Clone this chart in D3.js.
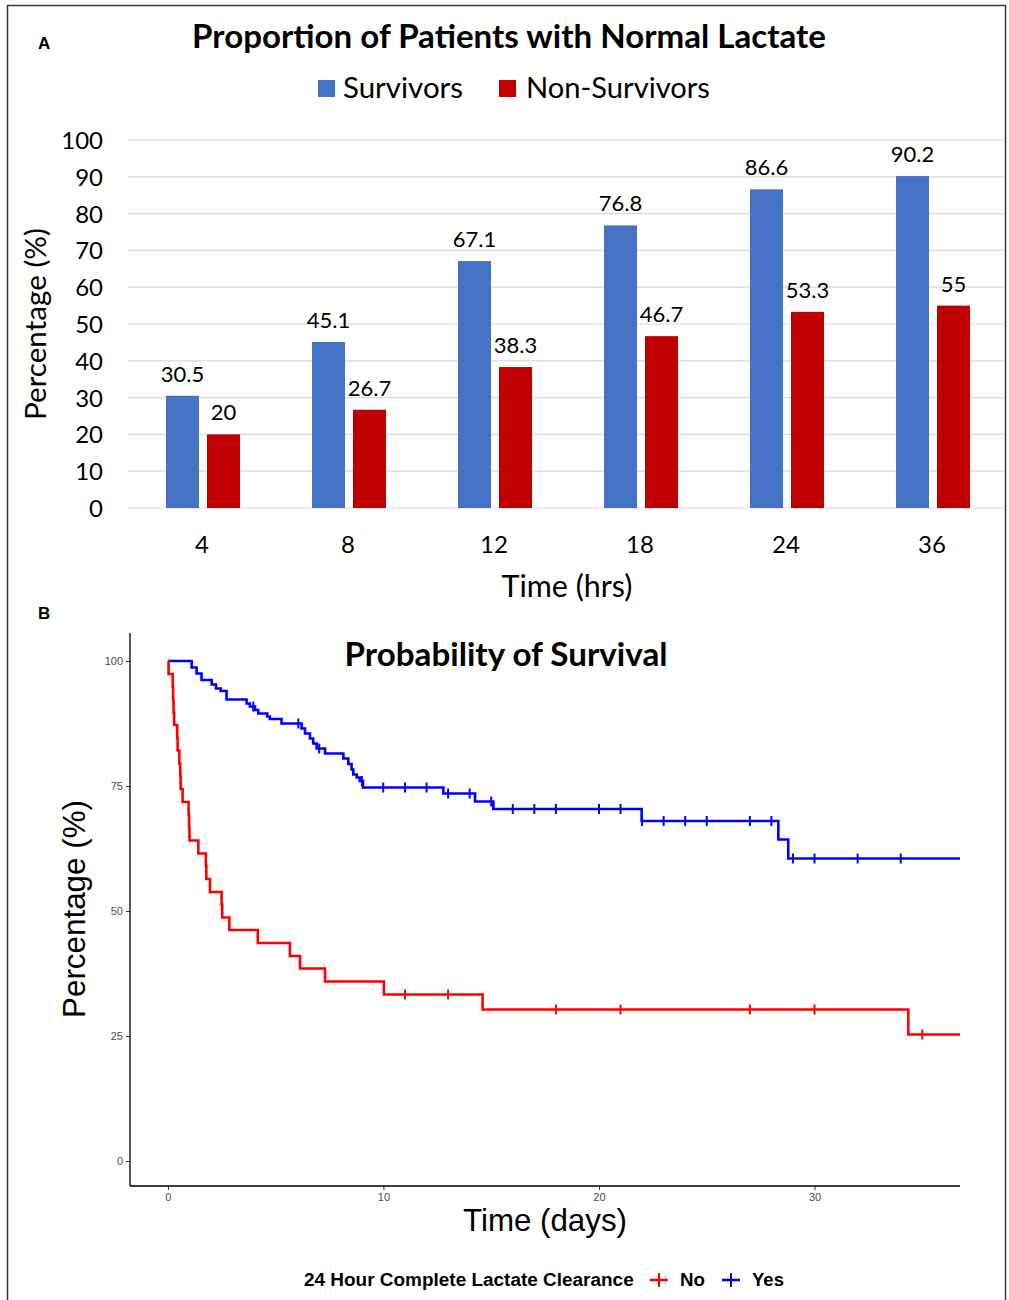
<!DOCTYPE html>
<html><head><meta charset="utf-8">
<script src="https://cdn.jsdelivr.net/npm/d3@7"></script>
<style>body{margin:0;background:#fff}</style>
</head><body>
<svg id="chart" width="1009" height="1300"></svg>
<script>
// ---------- Panel A data ----------
const categories = ["4", "8", "12", "18", "24", "36"];
const seriesNames = ["Survivors", "Non-Survivors"];
const survivors = [30.5, 45.1, 67.1, 76.8, 86.6, 90.2];
const nonSurvivors = [20, 26.7, 38.3, 46.7, 53.3, 55];
const barTicks = [0, 10, 20, 30, 40, 50, 60, 70, 80, 90, 100];

// ---------- Panel B data (Kaplan-Meier) ----------
const yesTimes = [0, 1.10, 1.33, 1.56, 2.03, 2.23, 2.45, 2.72, 3.65, 3.80, 4.04, 4.19, 4.61, 4.73, 5.27, 6.20, 6.36, 6.59, 6.74, 6.90, 7.29, 8.14, 8.37, 8.52, 8.60, 8.76, 8.90, 9.05, 12.78, 14.25, 15.10, 21.98, 28.32, 28.78];
const yesSurv  = [100, 98.7, 97.5, 96.2, 95.3, 94.5, 94.0, 92.3, 91.5, 90.9, 90.2, 89.5, 88.9, 88.4, 87.5, 86.5, 85.5, 84.5, 83.5, 82.5, 81.5, 80.5, 79.4, 78.3, 77.3, 76.7, 76.0, 74.7, 73.5, 71.9, 70.4, 68.0, 64.3, 60.5];
const yesCensor = [3.96, 6.05, 7.02, 9.0, 9.99, 11.0, 12.0, 13.0, 14.0, 15.0, 16.0, 17.0, 18.0, 20.0, 21.0, 22.0, 23.0, 24.0, 25.0, 27.0, 28.0, 29.0, 30.0, 32.0, 34.0];
const noTimes = [0, 0.03, 0.22, 0.24, 0.26, 0.29, 0.43, 0.45, 0.53, 0.57, 0.59, 0.68, 0.96, 0.98, 1.00, 1.41, 1.76, 1.78, 1.95, 2.49, 2.52, 2.85, 4.17, 5.66, 6.13, 7.29, 10.02, 14.6, 34.35];
const noSurv  = [100, 97.4, 94.9, 92.3, 89.7, 87.2, 84.6, 82.1, 79.5, 76.9, 74.4, 71.8, 69.2, 66.7, 64.1, 61.5, 59.0, 56.4, 53.8, 51.3, 48.7, 46.2, 43.6, 41.0, 38.5, 35.9, 33.3, 30.3, 25.3];
const noCensor = [11.0, 13.0, 18.0, 21.0, 27.0, 30.0, 35.0];
const kmEnd = 36.75;
const kmYTicks = [0, 25, 50, 75, 100];
const kmXTicks = [0, 10, 20, 30];
const kmGroups = ["No", "Yes"];

const svg = d3.select("#chart");
const FA = "Lato, 'Open Sans', sans-serif";
const FB = "'Liberation Sans', Arial, Helvetica, sans-serif";

function fit(sel, w) {
  const n = sel.node();
  const s = parseFloat(sel.attr("font-size"));
  const len = n.getComputedTextLength();
  sel.attr("font-size", (s * w / len).toFixed(2));
  return sel;
}

// frame
svg.append("path").attr("d", "M7.5,1300 V5.5 H1005.5 V1300").attr("fill", "none").attr("stroke", "#3a3a3a").attr("stroke-width", 1.5);

// ================= Panel A =================
const x = d3.scaleBand().domain(categories).range([129, 1005]);
const xs = d3.scaleBand().domain(seriesNames).range([37, 111]).paddingInner(0.195);
const y = d3.scaleLinear().domain([0, 100]).range([508, 140]);
const colorA = d3.scaleOrdinal().domain(seriesNames).range(["#4472C4", "#C00000"]);

svg.append("text").text("A").attr("x", 38).attr("y", 49).attr("font-family", FB).attr("font-weight", "bold").attr("font-size", 17);

fit(svg.append("text").text("Proportion of Patients with Normal Lactate")
  .attr("x", 509).attr("y", 48).attr("text-anchor", "middle")
  .attr("font-family", FA).attr("font-weight", "bold").attr("font-size", 29), 634);

// legend A
const legA = [{name: "Survivors", rx: 318, tx: 343, w: 120}, {name: "Non-Survivors", rx: 499, tx: 526, w: 184}];
legA.forEach(d => {
  svg.append("rect").attr("x", d.rx).attr("y", 80).attr("width", 17).attr("height", 17).attr("fill", colorA(d.name));
  fit(svg.append("text").text(d.name).attr("x", d.tx).attr("y", 98).attr("font-family", FA).attr("font-size", 26), d.w);
});

// gridlines
const gA = svg.append("g");
gA.selectAll("line.grid").data(barTicks).join("line").attr("class", "grid")
  .attr("x1", 128).attr("x2", 1005).attr("y1", d => y(d)).attr("y2", d => y(d))
  .attr("stroke", "#d9d9d9").attr("stroke-width", 1.2);

// y axis labels
const yAxisA = d3.axisLeft(y).tickValues(barTicks).tickSize(0).tickPadding(0);
const yAx = svg.append("g").attr("transform", "translate(103,0)").call(yAxisA);
yAx.select(".domain").remove();
yAx.selectAll("text").attr("font-family", FA).attr("font-size", 24).attr("fill", "#000").attr("dy", "0.35em");

// x axis labels
const xAxisA = d3.axisBottom(x).tickSize(0).tickPadding(0);
const xAx = svg.append("g").attr("transform", "translate(0,536)").call(xAxisA);
xAx.select(".domain").remove();
xAx.selectAll("text").attr("font-family", FA).attr("font-size", 24).attr("fill", "#000").attr("dy", "0.71em");

// bars
const rows = categories.map((c, i) => ({cat: c, vals: [{s: "Survivors", v: survivors[i]}, {s: "Non-Survivors", v: nonSurvivors[i]}]}));
const grp = svg.append("g").selectAll("g").data(rows).join("g").attr("transform", d => `translate(${x(d.cat)},0)`);
grp.selectAll("rect").data(d => d.vals).join("rect")
  .attr("x", d => xs(d.s)).attr("width", xs.bandwidth())
  .attr("y", d => y(d.v)).attr("height", d => y(0) - y(d.v))
  .attr("fill", d => colorA(d.s));
grp.selectAll("text").data(d => d.vals).join("text")
  .attr("x", d => xs(d.s) + xs.bandwidth() / 2).attr("y", d => y(d.v) - 14)
  .attr("text-anchor", "middle").attr("font-family", FA).attr("font-size", 22)
  .text(d => d.v);

// axis titles A
fit(svg.append("text").text("Percentage (%)").attr("transform", "translate(46,324) rotate(-90)")
  .attr("text-anchor", "middle").attr("font-family", FA).attr("font-size", 27), 192);
fit(svg.append("text").text("Time (hrs)").attr("x", 567).attr("y", 597).attr("text-anchor", "middle")
  .attr("font-family", FA).attr("font-size", 27), 131);

// ================= Panel B =================
const xK = d3.scaleLinear().domain([-1.76, kmEnd]).range([130, 960]);
const yK = d3.scaleLinear().domain([0, 100]).range([1161, 661]);
const colorB = d3.scaleOrdinal().domain(kmGroups).range(["#FF0000", "#0000FF"]);

svg.append("text").text("B").attr("x", 38).attr("y", 619).attr("font-family", FB).attr("font-weight", "bold").attr("font-size", 17);

fit(svg.append("text").text("Probability of Survival").attr("x", 506).attr("y", 666).attr("text-anchor", "middle")
  .attr("font-family", FA).attr("font-weight", "bold").attr("font-size", 29), 323);

// axes
const yAxB = svg.append("g").attr("transform", "translate(130,0)")
  .call(d3.axisLeft(yK).tickValues(kmYTicks).tickSize(4).tickPadding(3));
yAxB.select(".domain").remove();
yAxB.selectAll("line").attr("stroke", "#333");
yAxB.selectAll("text").attr("font-family", FB).attr("font-size", 11).attr("fill", "#4d4d4d");
const xAxB = svg.append("g").attr("transform", "translate(0,1186)")
  .call(d3.axisBottom(xK).tickValues(kmXTicks).tickSize(4).tickPadding(3));
xAxB.select(".domain").remove();
xAxB.selectAll("line").attr("stroke", "#333");
xAxB.selectAll("text").attr("font-family", FB).attr("font-size", 11).attr("fill", "#4d4d4d");
svg.append("line").attr("x1", 130).attr("x2", 130).attr("y1", 633).attr("y2", 1186).attr("stroke", "#000").attr("stroke-width", 1.3);
svg.append("line").attr("x1", 130).attr("x2", 960).attr("y1", 1186).attr("y2", 1186).attr("stroke", "#000").attr("stroke-width", 1.3);

// curves
const km = [
  {g: "Yes", times: yesTimes, surv: yesSurv, censor: yesCensor},
  {g: "No", times: noTimes, surv: noSurv, censor: noCensor}
];
const stepLine = d3.line().x(d => xK(d[0])).y(d => yK(d[1])).curve(d3.curveStepAfter);
km.forEach(k => {
  const pts = k.times.map((t, i) => [t, k.surv[i]]);
  pts.push([kmEnd, k.surv[k.surv.length - 1]]);
  svg.append("path").datum(pts).attr("d", stepLine).attr("fill", "none")
    .attr("stroke", colorB(k.g)).attr("stroke-width", 2.6).attr("stroke-linejoin", "miter");
  const cs = k.censor.map(t => [t, k.surv[d3.bisectRight(k.times, t) - 1]]);
  svg.append("g").selectAll("line").data(cs).join("line")
    .attr("x1", d => xK(d[0])).attr("x2", d => xK(d[0]))
    .attr("y1", d => yK(d[1]) - 5).attr("y2", d => yK(d[1]) + 5)
    .attr("stroke", colorB(k.g)).attr("stroke-width", 2);
});

// axis titles B
fit(svg.append("text").text("Percentage (%)").attr("transform", "translate(85,909) rotate(-90)")
  .attr("text-anchor", "middle").attr("font-family", FB).attr("font-size", 32), 218);
fit(svg.append("text").text("Time (days)").attr("x", 545).attr("y", 1231).attr("text-anchor", "middle")
  .attr("font-family", FB).attr("font-size", 32), 164);

// legend B
fit(svg.append("text").text("24 Hour Complete Lactate Clearance").attr("x", 304).attr("y", 1286)
  .attr("font-family", FB).attr("font-weight", "bold").attr("font-size", 17), 330);
const legB = [{g: "No", cx: 659, tx: 680, w: 25}, {g: "Yes", cx: 731, tx: 752, w: 32}];
legB.forEach(d => {
  svg.append("line").attr("x1", d.cx - 9).attr("x2", d.cx + 9).attr("y1", 1280).attr("y2", 1280).attr("stroke", colorB(d.g)).attr("stroke-width", 2.6);
  svg.append("line").attr("x1", d.cx).attr("x2", d.cx).attr("y1", 1273).attr("y2", 1287).attr("stroke", colorB(d.g)).attr("stroke-width", 2);
  fit(svg.append("text").text(d.g).attr("x", d.tx).attr("y", 1286).attr("font-family", FB).attr("font-weight", "bold").attr("font-size", 17), d.w);
});
</script>
</body></html>
